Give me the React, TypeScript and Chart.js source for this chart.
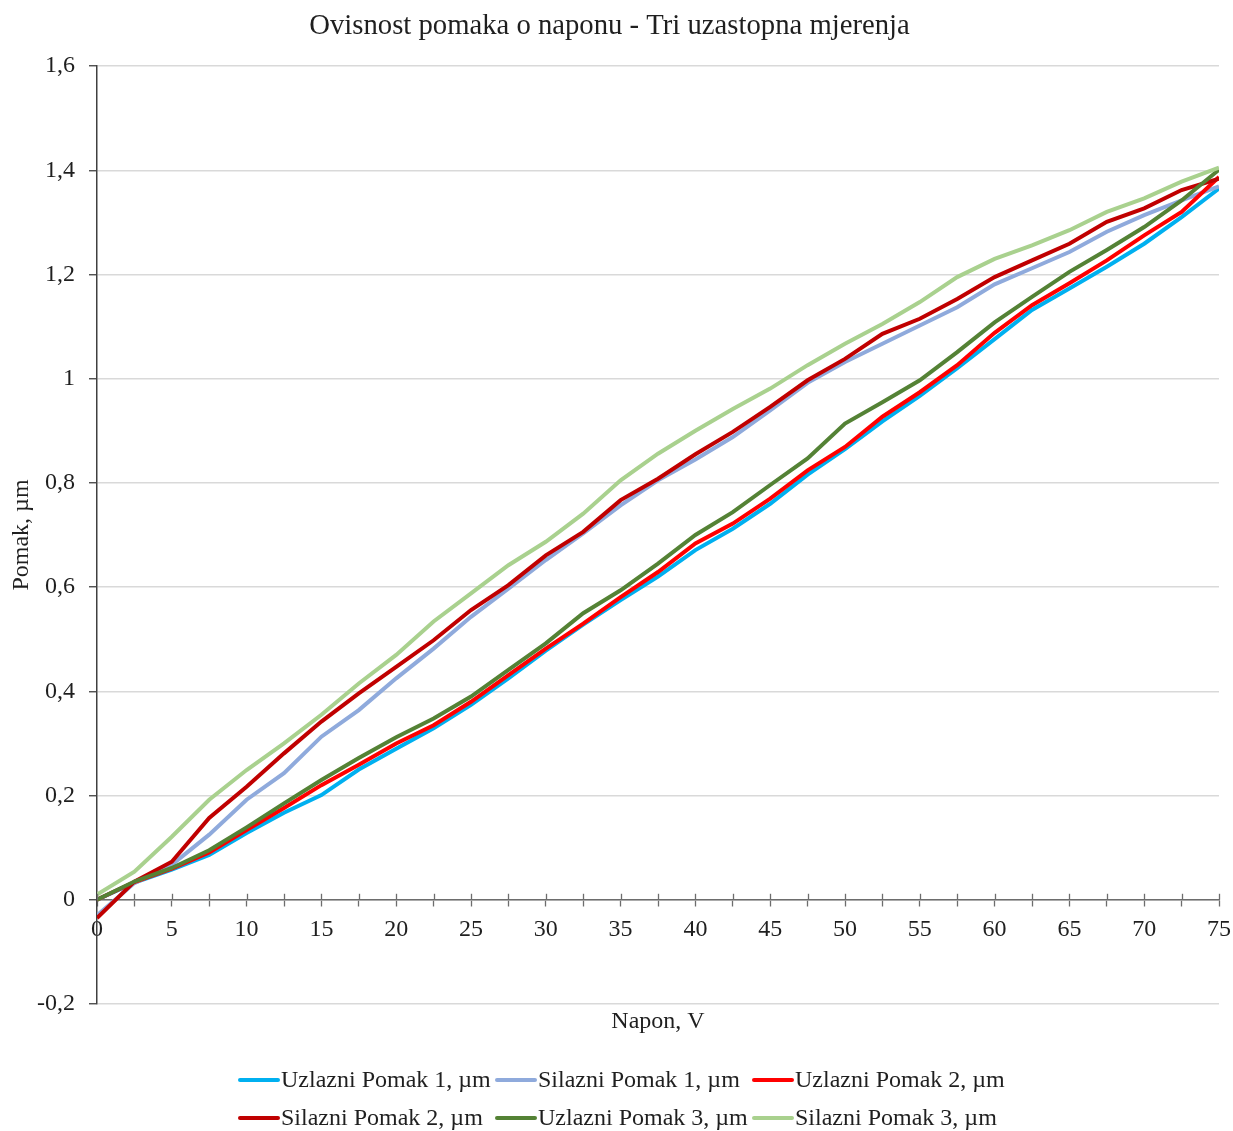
import React, { useEffect, useRef } from "react";
import { Chart, registerables } from "chart.js";

Chart.register(...registerables);

// ---- Data ----
const voltages = [0, 2.5, 5, 7.5, 10, 12.5, 15, 17.5, 20, 22.5, 25, 27.5, 30, 32.5, 35, 37.5, 40, 42.5, 45, 47.5, 50, 52.5, 55, 57.5, 60, 62.5, 65, 67.5, 70, 72.5, 75];

const uzlazni1 = [0, 0.033, 0.058, 0.086, 0.128, 0.167, 0.201, 0.25, 0.29, 0.329, 0.374, 0.425, 0.478, 0.528, 0.575, 0.62, 0.671, 0.712, 0.76, 0.816, 0.865, 0.918, 0.967, 1.02, 1.076, 1.132, 1.173, 1.215, 1.259, 1.31, 1.365];
const silazni1 = [-0.03, 0.032, 0.067, 0.125, 0.192, 0.243, 0.313, 0.364, 0.425, 0.482, 0.543, 0.597, 0.652, 0.703, 0.757, 0.805, 0.845, 0.888, 0.939, 0.992, 1.032, 1.067, 1.102, 1.137, 1.181, 1.212, 1.243, 1.282, 1.314, 1.342, 1.369];
const uzlazni2 = [0, 0.034, 0.06, 0.091, 0.134, 0.176, 0.22, 0.259, 0.3, 0.335, 0.38, 0.431, 0.482, 0.53, 0.581, 0.629, 0.684, 0.722, 0.77, 0.824, 0.869, 0.927, 0.974, 1.026, 1.088, 1.141, 1.183, 1.227, 1.275, 1.32, 1.387];
const silazni2 = [-0.035, 0.035, 0.073, 0.157, 0.217, 0.281, 0.342, 0.396, 0.447, 0.498, 0.556, 0.604, 0.661, 0.706, 0.767, 0.808, 0.855, 0.898, 0.946, 0.997, 1.038, 1.086, 1.115, 1.153, 1.195, 1.227, 1.259, 1.301, 1.327, 1.362, 1.384];
const uzlazni3 = [0, 0.035, 0.061, 0.095, 0.139, 0.185, 0.23, 0.272, 0.312, 0.348, 0.39, 0.441, 0.492, 0.55, 0.594, 0.645, 0.7, 0.744, 0.796, 0.847, 0.914, 0.955, 0.997, 1.051, 1.108, 1.157, 1.205, 1.247, 1.291, 1.342, 1.401];
const silazni3 = [0.01, 0.054, 0.121, 0.192, 0.249, 0.3, 0.355, 0.415, 0.47, 0.534, 0.588, 0.642, 0.687, 0.741, 0.805, 0.856, 0.9, 0.942, 0.981, 1.026, 1.067, 1.105, 1.147, 1.195, 1.23, 1.256, 1.285, 1.32, 1.346, 1.378, 1.405];

const seriesLabels = [
  "Uzlazni Pomak 1, µm",
  "Silazni Pomak 1, µm",
  "Uzlazni Pomak 2, µm",
  "Silazni Pomak 2, µm",
  "Uzlazni Pomak 3, µm",
  "Silazni Pomak 3, µm",
];
const seriesValues = [uzlazni1, silazni1, uzlazni2, silazni2, uzlazni3, silazni3];
const seriesColors = ["#00B0F0", "#8FAADC", "#FF0000", "#C00000", "#548235", "#A9D18E"];

const chartTitle = "Ovisnost pomaka o naponu - Tri uzastopna mjerenja";
const xTitle = "Napon, V";
const yTitle = "Pomak, µm";

const FONT = '"Liberation Serif", "Times New Roman", serif';
const TEXT = "#1f1f1f";

const gridLegend = {
  id: "gridLegend",
  afterDraw(chart: any) {
    const ctx = chart.ctx;
    const colW = 257;
    const x0 = 238;
    const y0 = 1080;
    const rowH = 38;
    ctx.save();
    ctx.font = `24px ${FONT}`;
    ctx.textAlign = "left";
    ctx.textBaseline = "middle";
    chart.data.datasets.forEach((ds: any, i: number) => {
      const col = i % 3;
      const row = Math.floor(i / 3);
      const x = x0 + col * colW;
      const y = y0 + row * rowH;
      ctx.strokeStyle = ds.borderColor;
      ctx.lineWidth = 4;
      ctx.lineCap = "round";
      ctx.beginPath();
      ctx.moveTo(x + 2, y);
      ctx.lineTo(x + 40, y);
      ctx.stroke();
      ctx.fillStyle = TEXT;
      ctx.fillText(ds.label, x + 43, y + 1);
    });
    ctx.restore();
  },
};

// small upward half of the x-axis tick marks (reference ticks cross the axis)
const crossTicks = {
  id: "crossTicks",
  afterDatasetsDraw(chart: any) {
    const xs = chart.scales.x;
    const ys = chart.scales.y;
    const y0 = ys.getPixelForValue(0);
    const ctx = chart.ctx;
    ctx.save();
    ctx.strokeStyle = "#6d6d6d";
    ctx.lineWidth = 1.3;
    xs.ticks.forEach((t: any) => {
      const px = Math.round(xs.getPixelForValue(t.value)) + 0.5;
      ctx.beginPath();
      ctx.moveTo(px, y0 - 6);
      ctx.lineTo(px, y0);
      ctx.stroke();
    });
    ctx.restore();
  },
};

export default function App() {
  const ref = useRef<HTMLCanvasElement | null>(null);

  useEffect(() => {
    document.body.style.margin = "0";
    const canvas = ref.current;
    if (!canvas) return;
    const datasets = seriesLabels.map((label, i) => ({
      label,
      data: voltages.map((v, j) => ({ x: v, y: seriesValues[i][j] })),
      borderColor: seriesColors[i],
      backgroundColor: seriesColors[i],
      borderWidth: 4,
      pointRadius: 0,
      tension: 0,
      fill: false,
      order: seriesLabels.length - i,
    }));

    const chart = new Chart(canvas, {
      type: "line",
      data: { datasets },
      plugins: [gridLegend, crossTicks],
      options: {
        animation: false,
        responsive: false,
        layout: { padding: { left: 0, right: 14, top: 0, bottom: 94.6 } },
        plugins: {
          legend: { display: false },
          tooltip: { enabled: false },
          title: {
            display: true,
            text: chartTitle,
            color: TEXT,
            font: { family: FONT, size: 28.7, weight: "normal" },
            padding: { top: 8.8, bottom: 22.8 },
          },
        },
        scales: {
          x: {
            type: "linear",
            position: { y: 0 },
            min: 0,
            max: 75,
            ticks: {
              stepSize: 2.5,
              autoSkip: false,
              maxRotation: 0,
              color: TEXT,
              padding: 10,
              font: { family: FONT, size: 24 },
              callback: (v: any) => (Number(v) % 5 === 0 ? String(v) : ""),
            },
            grid: {
              display: true,
              drawOnChartArea: false,
              drawTicks: true,
              tickLength: 6,
              tickColor: "#6d6d6d",
              tickWidth: 1.3,
            },
            border: { display: true, color: "#6d6d6d", width: 1.5 },
            afterFit: (scale: any) => {
              scale.paddingLeft = 0;
              scale.paddingRight = 0;
            },
          },
          x2: {
            type: "linear",
            axis: "x",
            position: "bottom",
            min: 0,
            max: 75,
            ticks: { display: false },
            grid: { display: false },
            border: { display: false },
            title: {
              display: true,
              text: xTitle,
              color: TEXT,
              font: { family: FONT, size: 24 },
              padding: { top: 0, bottom: 0 },
            },
            afterFit: (scale: any) => {
              scale.height = 32.4;
              scale.paddingLeft = 0;
              scale.paddingRight = 0;
            },
          },
          y: {
            type: "linear",
            position: "left",
            min: -0.2,
            max: 1.6,
            ticks: {
              stepSize: 0.2,
              color: TEXT,
              padding: 14,
              font: { family: FONT, size: 24 },
              callback: (v: any) => String(Number(Number(v).toFixed(1))).replace(".", ","),
            },
            grid: {
              color: "#d9d9d9",
              lineWidth: 1.5,
              tickLength: 8,
              tickColor: "#404040",
              tickWidth: 1.3,
            },
            border: { display: true, color: "#404040", width: 1.5 },
            title: {
              display: true,
              text: yTitle,
              color: TEXT,
              font: { family: FONT, size: 24 },
              padding: { top: 7.6, bottom: 0 },
            },
            afterFit: (scale: any) => {
              scale.width = 97;
            },
          },
        },
      },
    } as any);

    return () => chart.destroy();
  }, []);

  return (
    <canvas
      ref={ref}
      width={1233}
      height={1131}
      style={{ display: "block", width: 1233, height: 1131 }}
    />
  );
}
